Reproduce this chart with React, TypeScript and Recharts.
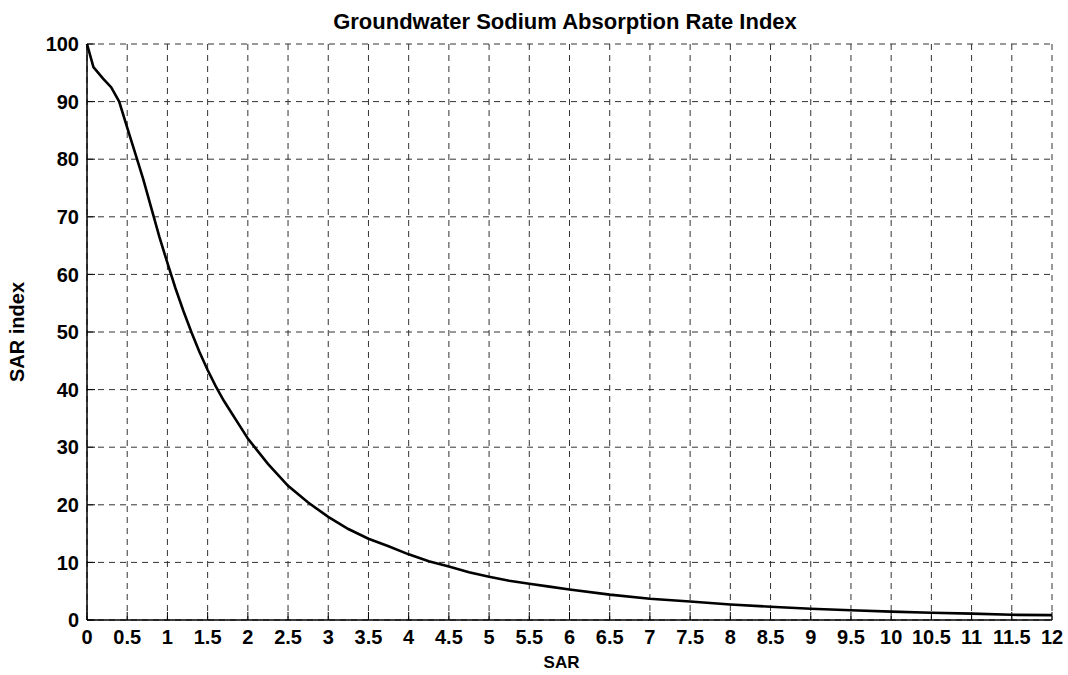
import { LineChart, Line, XAxis, YAxis, CartesianGrid } from "recharts";

// SAR values along x
const sarValues = [
  0, 0.08, 0.2, 0.3, 0.4, 0.5, 0.6, 0.7, 0.8, 0.9, 1.0, 1.1, 1.2, 1.3, 1.4, 1.5, 1.6, 1.7, 1.8, 1.9, 2.0,
  2.25, 2.5, 2.75, 3.0, 3.25, 3.5, 3.75, 4.0, 4.25, 4.5, 4.75, 5.0, 5.25, 5.5, 5.75, 6.0, 6.5, 7.0, 7.5,
  8.0, 8.5, 9.0, 9.5, 10.0, 10.5, 11.0, 11.5, 12.0,
];
// SAR index values for each SAR value
const sarIndex = [
  100, 96, 94, 92.5, 90, 85.5, 81, 76.5, 71.5, 66.5, 62, 57.6, 53.6, 49.9, 46.5, 43.4, 40.6, 38.1, 35.9, 33.7, 31.5,
  27.1, 23.3, 20.4, 17.9, 15.8, 14.1, 12.8, 11.4, 10.2, 9.3, 8.3, 7.5, 6.8, 6.3, 5.8, 5.3, 4.4, 3.7, 3.2,
  2.7, 2.3, 1.95, 1.7, 1.45, 1.25, 1.1, 0.9, 0.85,
];

const xTicks = [0, 0.5, 1, 1.5, 2, 2.5, 3, 3.5, 4, 4.5, 5, 5.5, 6, 6.5, 7, 7.5, 8, 8.5, 9, 9.5, 10, 10.5, 11, 11.5, 12];
const yTicks = [0, 10, 20, 30, 40, 50, 60, 70, 80, 90, 100];

const data = sarValues.map((x, i) => ({ x, y: sarIndex[i] }));

const FONT = "'Liberation Sans', Arial, Helvetica, sans-serif";

// eslint-disable-next-line @typescript-eslint/no-explicit-any
const BottomTick = ({ x, y, payload }: any) => (
  <text x={x} y={y} dy="0.71em" textAnchor="middle" fontFamily={FONT} fontWeight={700} fontSize={20} fill="#000">
    {payload.value}
  </text>
);

// eslint-disable-next-line @typescript-eslint/no-explicit-any
const LeftTick = ({ x, y, payload }: any) => (
  <text x={x} y={y} dy="0.36em" textAnchor="end" fontFamily={FONT} fontWeight={700} fontSize={20} fill="#000">
    {payload.value}
  </text>
);

export default function App() {
  return (
    <div style={{ position: "absolute", left: 0, top: 0, width: 1068, height: 675, background: "#fff" }}>
      <LineChart width={1068} height={675} data={data} margin={{ top: 44, right: 16, bottom: 25, left: 27 }}>
        <CartesianGrid stroke="#333" strokeDasharray="6 5" strokeWidth={1} />
        <XAxis
          dataKey="x"
          type="number"
          domain={[0, 12]}
          ticks={xTicks}
          interval={0}
          height={30}
          tickSize={-8}
          tickMargin={18}
          axisLine={{ stroke: "#000", strokeWidth: 1.5 }}
          tickLine={{ stroke: "#000" }}
          tick={<BottomTick />}
        />
        <XAxis
          xAxisId="top"
          orientation="top"
          dataKey="x"
          type="number"
          domain={[0, 12]}
          ticks={xTicks}
          interval={0}
          height={0}
          tickSize={-8}
          tick={false}
          axisLine={{ stroke: "#000", strokeWidth: 1.5 }}
          tickLine={{ stroke: "#000" }}
        />
        <YAxis
          type="number"
          domain={[0, 100]}
          ticks={yTicks}
          interval={0}
          width={60}
          tickSize={-8}
          tickMargin={16}
          axisLine={{ stroke: "#000", strokeWidth: 1.5 }}
          tickLine={{ stroke: "#000" }}
          tick={<LeftTick />}
        />
        <YAxis
          yAxisId="right"
          orientation="right"
          type="number"
          domain={[0, 100]}
          ticks={yTicks}
          interval={0}
          width={0}
          tickSize={-8}
          tick={false}
          axisLine={{ stroke: "#000", strokeWidth: 1.5 }}
          tickLine={{ stroke: "#000" }}
        />
        <Line
          type="linear"
          dataKey="y"
          stroke="#000"
          strokeWidth={2.6}
          dot={false}
          isAnimationActive={false}
        />
      </LineChart>
      <svg
        width={1068}
        height={675}
        style={{ position: "absolute", left: 0, top: 0, pointerEvents: "none" }}
      >
        <text x={565} y={29} textAnchor="middle" fontFamily={FONT} fontWeight={700} fontSize={22} fill="#000">
          Groundwater Sodium Absorption Rate Index
        </text>
        <text x={561.5} y={668} textAnchor="middle" fontFamily={FONT} fontWeight={700} fontSize={17} fill="#000">
          SAR
        </text>
        <text
          x={24}
          y={332}
          transform="rotate(-90 24 332)"
          textAnchor="middle"
          fontFamily={FONT}
          fontWeight={700}
          fontSize={20}
          fill="#000"
        >
          SAR index
        </text>
      </svg>
    </div>
  );
}
